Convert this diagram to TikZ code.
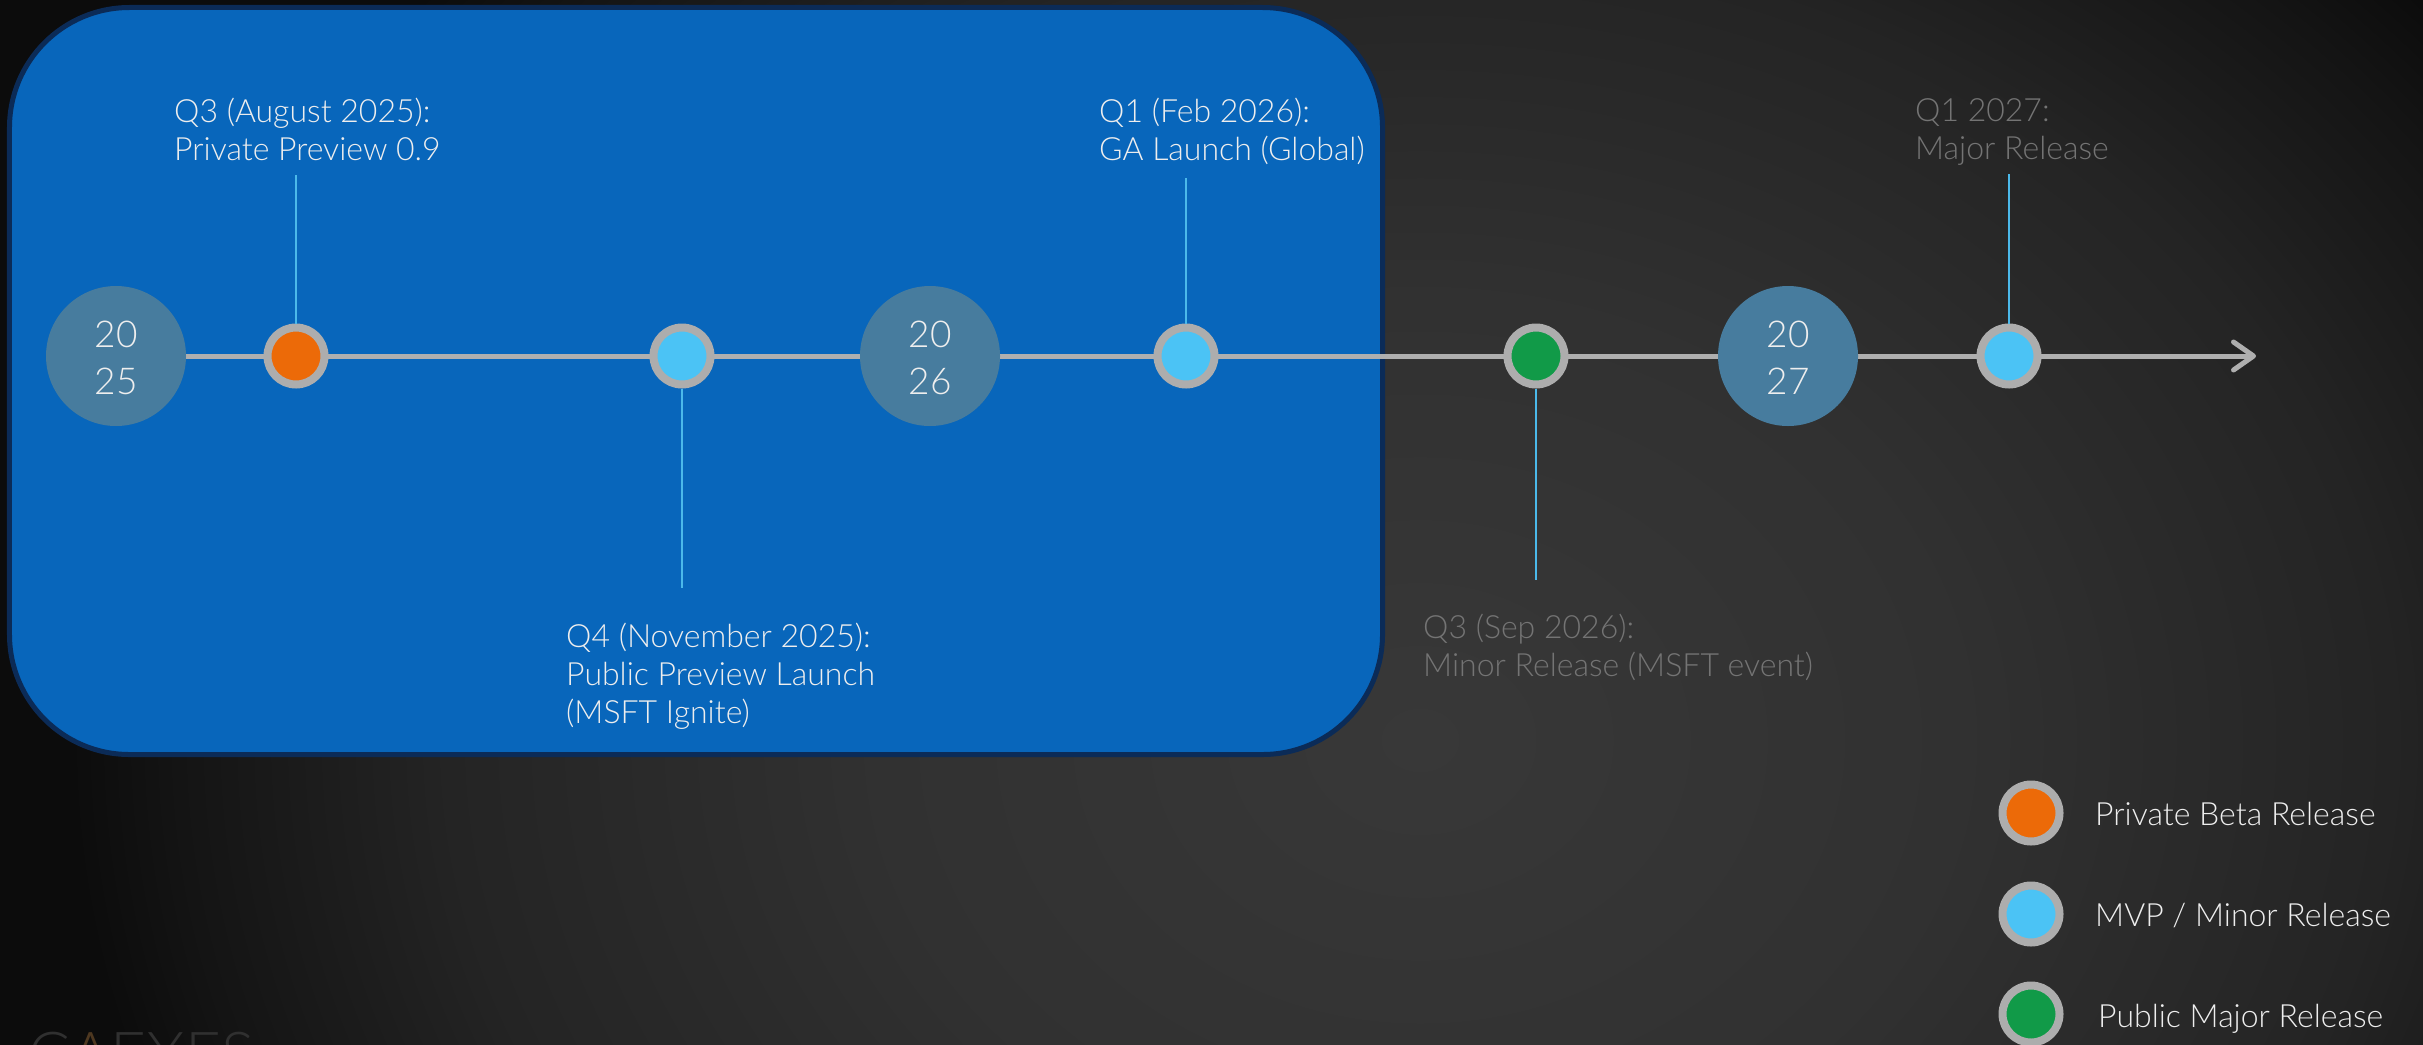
\documentclass[tikz,border=0pt]{standalone}
\usepackage{fontspec}
\setmainfont{Lato}[UprightFont={* Light}]
\usetikzlibrary{arrows.meta}
\definecolor{bgdark}{HTML}{0C0C0C}
\definecolor{glowA}{HTML}{383838}
\definecolor{glowB}{HTML}{313131}
\definecolor{glowC}{HTML}{242424}
\definecolor{glowD}{HTML}{141414}
\definecolor{boxblue}{HTML}{0866BB}
\definecolor{boxborder}{HTML}{0B2B57}
\definecolor{yearblue}{HTML}{477C9E}
\definecolor{ringgray}{HTML}{ADADAD}
\definecolor{linegray}{HTML}{AFAFAF}
\definecolor{mvpblue}{HTML}{4BC3F5}
\definecolor{betaorange}{HTML}{EC6A08}
\definecolor{majorgreen}{HTML}{119A48}
\definecolor{connblue}{HTML}{4BB9EA}
\definecolor{txtwhite}{HTML}{EEEEEE}
\definecolor{txtgray}{HTML}{747474}
\definecolor{logogray}{HTML}{303030}
\definecolor{logobrown}{HTML}{4E3820}
\pgfdeclareradialshading{bgglow}{\pgfpoint{0bp}{0bp}}{color(0bp)=(glowA); color(10bp)=(glowB); color(18bp)=(glowC); color(23bp)=(glowD); color(25bp)=(bgdark); color(50bp)=(bgdark)}
\newcommand{\twolines}[2]{\begin{tabular}[t]{@{}l@{}}#1\\#2\end{tabular}}
\newcommand{\threelines}[3]{\begin{tabular}[t]{@{}l@{}}#1\\#2\\#3\end{tabular}}
\newcommand{\yeartext}[2]{\begin{tabular}{@{}c@{}}#1\\#2\end{tabular}}
\begin{document}
\begin{tikzpicture}[x=1bp,y=-1bp,
  phasebox/.style={draw=boxborder,line width=5bp,fill=boxblue,rounded corners=120bp,
    minimum width=1373bp,minimum height=747bp,inner sep=0pt},
  timeline/.style={draw=linegray,line width=5bp,-{Straight Barb[length=20bp,width=28bp,round]}},
  yearcirc/.style={circle,fill=yearblue,minimum size=140bp,inner sep=0pt},
  yeartxt/.style={text=txtwhite,font=\fontsize{37bp}{47bp}\selectfont,inner sep=0pt,yshift=-6bp},
  mdot/.style={circle,draw=ringgray,line width=8bp,minimum size=57bp,inner sep=0pt},
  conn/.style={draw=connblue,line width=2.2bp},
  lbl/.style={anchor=base west,inner sep=0pt,text=txtwhite,font=\fontsize{32bp}{38bp}\selectfont},
  glbl/.style={lbl,text=txtgray},
]
\useasboundingbox (0,0) rectangle (2423,1044);
\begin{scope}
  \clip (-10,-10) rectangle (2433,1054);
  \fill[bgdark] (-10,-10) rectangle (2433,1054);
  \shade[shading=bgglow] (1420,740) ellipse (1350bp and 1100bp);
  \node[anchor=base west,inner sep=0pt,text=logogray,font=\fontsize{62bp}{62bp}\selectfont] (logo) at (28,1076) {C{\color{logobrown}A}EXES};
\end{scope}

% phase box
\node[phasebox] (phase) at (696,381) {};

% timeline
\coordinate (tstart) at (116,356);
\coordinate (tend) at (2256,356);
\draw[timeline] (tstart) -- (tend);

% year circles
\node[yearcirc] (y25) at (116,356) {};
\node[yeartxt] (y25t) at (y25.center) {\yeartext{20}{25}};
\node[yearcirc] (y26) at (930,356) {};
\node[yeartxt] (y26t) at (y26.center) {\yeartext{20}{26}};
\node[yearcirc] (y27) at (1788,356) {};
\node[yeartxt] (y27t) at (y27.center) {\yeartext{20}{27}};

% milestones
\node[mdot,fill=betaorange] (m1) at (296,356) {};
\node[mdot,fill=mvpblue] (m2) at (682,356) {};
\node[mdot,fill=mvpblue] (m3) at (1186,356) {};
\node[mdot,fill=majorgreen] (m4) at (1536,356) {};
\node[mdot,fill=mvpblue] (m5) at (2009,356) {};

% connector ends
\coordinate (c1) at (296,175);
\coordinate (c2) at (682,588);
\coordinate (c3) at (1186,178);
\coordinate (c4) at (1536,580);
\coordinate (c5) at (2009,174);
\draw[conn] (m1.north) -- (c1);
\draw[conn] (m2.south) -- (c2);
\draw[conn] (m3.north) -- (c3);
\draw[conn] (m4.south) -- (c4);
\draw[conn] (m5.north) -- (c5);

% labels
\node[lbl] (l1) at (174,122) {\twolines{Q3 (August 2025):}{Private Preview 0.9}};
\node[lbl] (l2) at (566,647) {\threelines{Q4 (November 2025):}{Public Preview Launch}{(MSFT Ignite)}};
\node[lbl] (l3) at (1099,122) {\twolines{Q1 (Feb 2026):}{GA Launch (Global)}};
\node[glbl] (l4) at (1423,638) {\twolines{Q3 (Sep 2026):}{Minor Release (MSFT event)}};
\node[glbl] (l5) at (1915,121) {\twolines{Q1 2027:}{Major Release}};

% legend
\node[mdot,fill=betaorange] (k1) at (2031,813) {};
\node[mdot,fill=mvpblue] (k2) at (2031,914) {};
\node[mdot,fill=majorgreen] (k3) at (2031,1014) {};
\node[lbl] (k1t) at (2095,825) {Private Beta Release};
\node[lbl] (k2t) at (2095,926) {MVP / Minor Release};
\node[lbl] (k3t) at (2098,1027) {Public Major Release};
\end{tikzpicture}
\end{document}
